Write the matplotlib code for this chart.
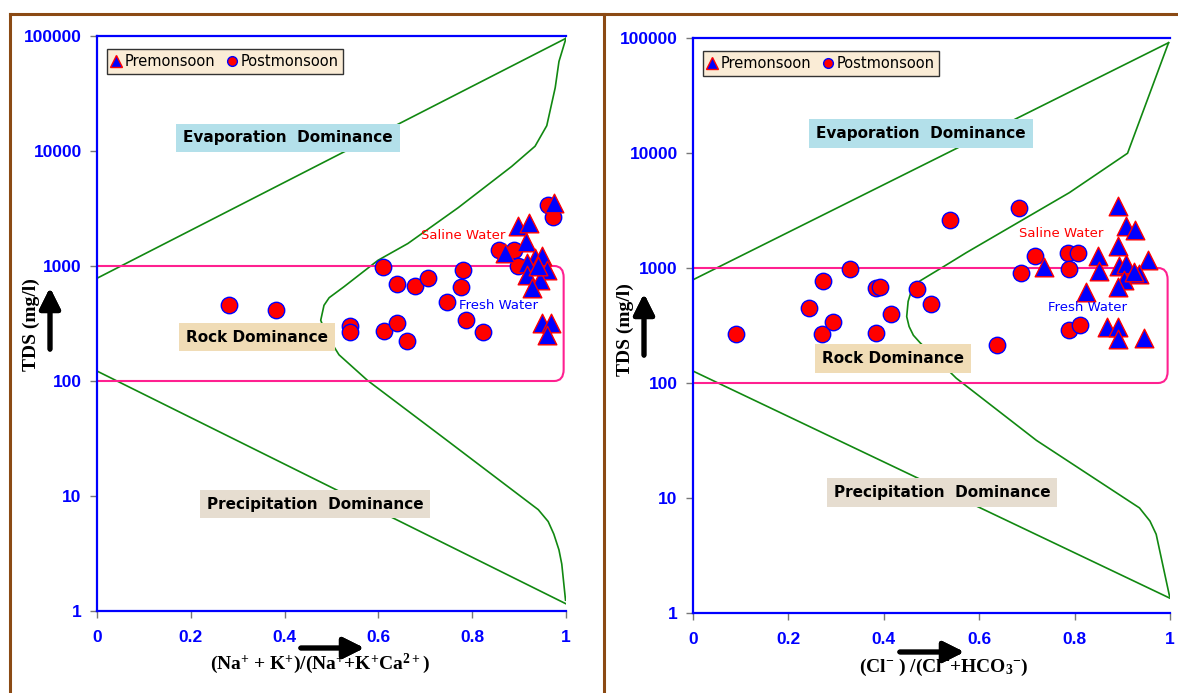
import matplotlib.pyplot as plt
from matplotlib.lines import Line2D
from matplotlib.patches import FancyBboxPatch

plt.rcParams['mathtext.fontset'] = 'custom'
plt.rcParams['mathtext.rm'] = 'Liberation Serif:bold'
plt.rcParams['mathtext.it'] = 'Liberation Serif:bold'
plt.rcParams['mathtext.bf'] = 'Liberation Serif:bold'

# ---- data: left panel (Na+K)/(Na+K+Ca) ----
na_pre_x = [0.975, 0.898, 0.921, 0.914, 0.870, 0.934, 0.948, 0.916, 0.959, 0.916, 0.945, 0.927, 0.940, 0.948, 0.969, 0.959]
na_pre_tds = [3550, 2230, 2350, 1630, 1300, 1170, 1220, 1055, 923, 835, 755, 640, 1000, 317, 317, 251]
na_post_x = [0.281, 0.381, 0.540, 0.540, 0.609, 0.639, 0.679, 0.706, 0.781, 0.777, 0.746, 0.613, 0.640,
             0.660, 0.786, 0.824, 0.858, 0.890, 0.897, 0.961, 0.972]
na_post_tds = [455, 413, 301, 269, 986, 698, 672, 787, 915, 663, 491, 273, 322,
               221, 342, 269, 1390, 1390, 1000, 3420, 2690]

# ---- data: right panel Cl/(Cl+HCO3) ----
cl_pre_x = [0.736, 0.824, 0.849, 0.851, 0.891, 0.908, 0.927, 0.891, 0.953, 0.894, 0.907, 0.904, 0.891,
            0.934, 0.925, 0.867, 0.892, 0.892, 0.945]
cl_pre_tds = [1020, 617, 1280, 933, 3475, 2300, 2135, 1555, 1170, 1040, 1080, 790, 690,
              879, 930, 307, 307, 241, 245]
cl_post_x = [0.090, 0.244, 0.272, 0.270, 0.294, 0.329, 0.384, 0.391, 0.384, 0.416, 0.469, 0.499, 0.538,
             0.637, 0.683, 0.688, 0.718, 0.786, 0.808, 0.789, 0.788, 0.812]
cl_post_tds = [266, 447, 773, 266, 338, 984, 665, 690, 270, 402, 656, 482, 2632,
               214, 3325, 899, 1280, 1360, 1360, 977, 291, 318]

# ---- Gibbs boundary lines ----
na_upper_x = [0.0, 1.0]
na_upper_tds = [782, 95500]
na_lower_x = [0.0, 0.999]
na_lower_tds = [122, 1.16]
na_inner_x = [1.0, 0.985, 0.977, 0.959, 0.934, 0.884, 0.77, 0.663, 0.599, 0.527, 0.495, 0.484, 0.477, 0.49,
              0.516, 0.577, 0.741, 0.941, 0.962, 0.974, 0.985, 0.991, 0.999]
na_inner_tds = [95500, 60000, 35500, 16600, 11000, 7330, 3210, 1570, 1120, 662, 530, 455, 337, 250,
                169, 101, 31.6, 7.6, 6.0, 4.67, 3.4, 2.56, 1.24]

cl_upper_x = [0.0, 0.997]
cl_upper_tds = [790, 91000]
cl_lower_x = [0.0, 0.999]
cl_lower_tds = [127, 1.35]
cl_inner_x = [0.997, 0.911, 0.789, 0.573, 0.524, 0.476, 0.458, 0.451, 0.448, 0.453, 0.462, 0.476, 0.552, 0.720,
              0.936, 0.958, 0.971, 0.999]
cl_inner_tds = [91000, 9950, 4520, 1360, 1020, 773, 640, 512, 378, 310, 260, 224, 110, 31.7,
                8.2, 6.3, 4.84, 1.40]

yticks = [1, 10, 100, 1000, 10000, 100000]
ytick_labels = ['1', '10', '100', '1000', '10000', '100000']
xticks = [0, 0.2, 0.4, 0.6, 0.8, 1]
xtick_labels = ['0', '0.2', '0.4', '0.6', '0.8', '1']

blue = '#0000ff'
red = '#ff0000'
green = '#118811'
pink = '#ff2090'
brown = '#8b4a14'

fig = plt.figure(figsize=(11.78, 6.93), dpi=100)
ax1 = fig.add_axes([0.08234, 0.11833, 0.39813, 0.82973])
ax2 = fig.add_axes([0.58829, 0.11544, 0.40492, 0.82973])


def draw_panel(ax, pre_x, pre_y, post_x, post_y, up_x, up_y, lo_x, lo_y, in_x, in_y, labels):
    ax.set_yscale('log')
    ax.set_xlim(0, 1)
    ax.set_ylim(1, 100000)

    ax.plot(up_x, up_y, color=green, lw=1.2, zorder=2)
    ax.plot(lo_x, lo_y, color=green, lw=1.2, zorder=2)
    ax.plot(in_x, in_y, color=green, lw=1.2, zorder=2)

    # rock dominance rectangle 100-1000 mg/l
    box = FancyBboxPatch((-0.05, 0.4), 1.045, 0.2, boxstyle='round,pad=0,rounding_size=0.02',
                         transform=ax.transAxes, fill=False, edgecolor=pink, lw=1.5, zorder=2)
    ax.add_patch(box)

    ax.scatter(post_x, post_y, s=140, marker='o', color=red, edgecolors=blue, linewidths=1, zorder=4)
    ax.scatter(pre_x, pre_y, s=180, marker='^', color=blue, edgecolors=red, linewidths=1, zorder=5)

    (ex, ey), (rx, ry), (px, py), (sx, sy), (fx, fy) = labels
    ax.text(ex, ey, 'Evaporation  Dominance', fontsize=11, fontweight='bold', ha='center', va='center',
            zorder=6, bbox=dict(boxstyle='square,pad=0.45', fc='#b3e0ea', ec='none'))
    ax.text(rx, ry, 'Rock Dominance', fontsize=11, fontweight='bold', ha='center', va='center',
            zorder=6, bbox=dict(boxstyle='square,pad=0.45', fc='#f0dcb6', ec='none'))
    ax.text(px, py, 'Precipitation  Dominance', fontsize=11, fontweight='bold', ha='center', va='center',
            zorder=6, bbox=dict(boxstyle='square,pad=0.45', fc='#e6ddd0', ec='none'))
    ax.text(sx, sy, 'Saline Water', fontsize=9.5, color=red, ha='center', va='center', zorder=6)
    ax.text(fx, fy, 'Fresh Water', fontsize=9.5, color=blue, ha='center', va='center', zorder=6)

    handles = [
        Line2D([], [], marker='^', ls='none', ms=8, mfc=blue, mec=red, label='Premonsoon'),
        Line2D([], [], marker='o', ls='none', ms=7, mfc=red, mec=blue, label='Postmonsoon'),
    ]
    leg = ax.legend(handles=handles, loc='upper left', ncol=2, fontsize=10.5, frameon=True, fancybox=False,
                    handlelength=0.6, handletextpad=0.3, columnspacing=0.8, borderpad=0.35,
                    bbox_to_anchor=(0.005, 0.99))
    leg.get_frame().set_facecolor('#faecd6')
    leg.get_frame().set_edgecolor('#333333')
    leg.get_frame().set_linewidth(1)
    leg.get_frame().set_alpha(1)
    leg.set_zorder(7)

    ax.set_yticks(yticks)
    ax.set_yticklabels(ytick_labels)
    ax.set_xticks(xticks)
    ax.set_xticklabels(xtick_labels)
    ax.minorticks_off()
    ax.tick_params(axis='both', colors='#777777', labelcolor=blue, length=5, width=1, direction='out')
    ax.tick_params(axis='y', pad=6)
    ax.tick_params(axis='x', pad=9)
    for lab in ax.get_xticklabels() + ax.get_yticklabels():
        lab.set_fontfamily('Liberation Sans')
        lab.set_fontweight('bold')
        lab.set_fontsize(12.5)

    for side in ['left', 'top', 'bottom']:
        ax.spines[side].set_color(blue)
        ax.spines[side].set_linewidth(1.6)
    ax.spines['right'].set_visible(False)


draw_panel(ax1, na_pre_x, na_pre_tds, na_post_x, na_post_tds,
           na_upper_x, na_upper_tds, na_lower_x, na_lower_tds, na_inner_x, na_inner_tds,
           [(0.407, 13000), (0.341, 241), (0.465, 8.5), (0.780, 1840), (0.856, 455)])
draw_panel(ax2, cl_pre_x, cl_pre_tds, cl_post_x, cl_post_tds,
           cl_upper_x, cl_upper_tds, cl_lower_x, cl_lower_tds, cl_inner_x, cl_inner_tds,
           [(0.478, 14800), (0.420, 163), (0.522, 11.2), (0.771, 1980), (0.826, 457)])

# y-axis labels
for x, y in [(31, 325), (625, 330)]:
    fig.text(x / 1178, 1 - y / 693, 'TDS (mg/l)', rotation=90, fontfamily='Liberation Serif',
             fontweight='bold', fontsize=14, ha='center', va='center')

# x-axis labels
fig.text(320 / 1178, 1 - 664 / 693, r'(Na$^{+}$ + K$^{+}$)/(Na$^{+}$+K$^{+}$Ca$^{2+}$)',
         fontfamily='Liberation Serif', fontweight='bold', fontsize=14, ha='center', va='center')
fig.text(944 / 1178, 1 - 667 / 693, r'(Cl$^{-}$ ) /(Cl$^{-}$+HCO$_{3}$$^{-}$)',
         fontfamily='Liberation Serif', fontweight='bold', fontsize=14, ha='center', va='center')

# arrows next to axis labels
arrow_kw = dict(arrowstyle='-|>,head_length=0.7,head_width=0.35', lw=3.5, color='black', mutation_scale=18)
for (x0, y0), (x1, y1) in [((50, 352), (50, 285)), ((644, 358), (644, 291)),
                           ((298, 648), (367, 648)), ((897, 652), (967, 652))]:
    fig.add_artist(plt.annotate('', xy=(x1 / 1178, 1 - y1 / 693), xytext=(x0 / 1178, 1 - y0 / 693),
                                xycoords='figure fraction', textcoords='figure fraction',
                                arrowprops=arrow_kw))

# brown frame
fig.add_artist(Line2D([10 / 1178, 1], [1 - 14 / 693, 1 - 14 / 693], color=brown, lw=2.2, transform=fig.transFigure))
fig.add_artist(Line2D([10 / 1178, 10 / 1178], [0, 1 - 14 / 693], color=brown, lw=2.2, transform=fig.transFigure))
fig.add_artist(Line2D([604 / 1178, 604 / 1178], [0, 1 - 14 / 693], color=brown, lw=2.2, transform=fig.transFigure))

plt.savefig('out.png', dpi=100)
